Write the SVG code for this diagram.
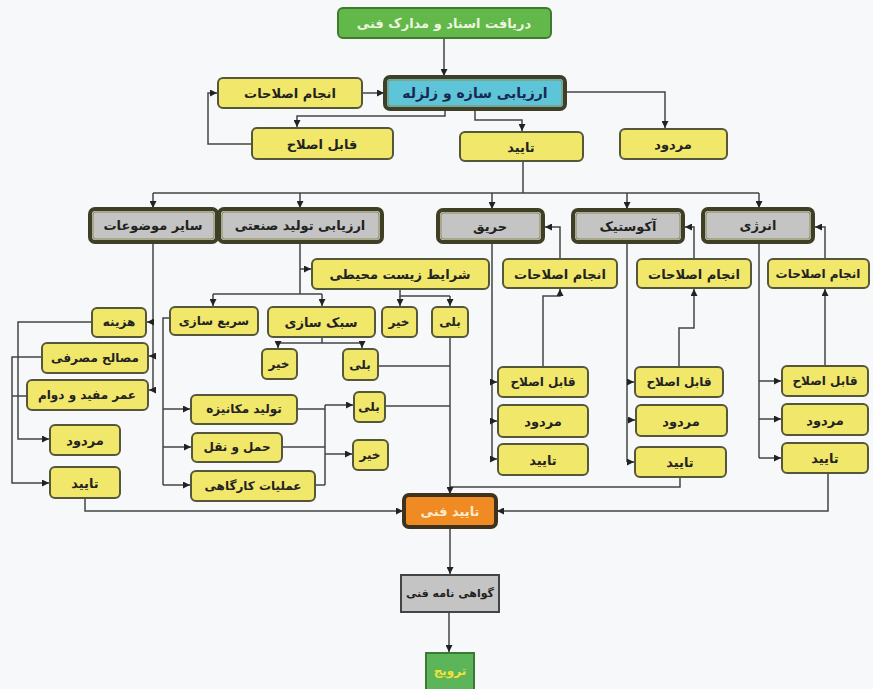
<svg xmlns="http://www.w3.org/2000/svg" width="873" height="689" viewBox="0 0 873 689">
<defs>
<marker id="a" viewBox="0 0 10 10" refX="10" refY="5" markerWidth="7" markerHeight="7" orient="auto" markerUnits="userSpaceOnUse"><path d="M0,0L10,5L0,10z" fill="#222"/></marker>
<style>
.y{fill:#f1e76a;stroke:#56563a;stroke-width:2}
.g{fill:#c4c4c4;stroke:#3f3f27;stroke-width:4}
.gi{fill:none;stroke:#8c8c55;stroke-width:1}
.t{font-family:"DejaVu Sans",sans-serif;font-weight:bold;font-size:13px;fill:#222;text-anchor:middle;dominant-baseline:central}
.s{font-size:12px}
.c path{fill:none;stroke:#444;stroke-width:1.5}
.m{marker-end:url(#a)}
</style>
</defs>
<rect width="873" height="689" fill="#f6f8f9"/>
<g class="c">
<path class="m" d="M444,38V76"/>
<path class="m" d="M362,93H384"/>
<path class="m" d="M445,109V116H297V127"/>
<path class="m" d="M252,144H208V93H217"/>
<path class="m" d="M475,109V120H522V131"/>
<path class="m" d="M565,92H665V128"/>
<path d="M523,161V193M153,193H759"/>
<path class="m" d="M153,193V208"/>
<path class="m" d="M300,193V208"/>
<path class="m" d="M492,193V209"/>
<path class="m" d="M627,193V209"/>
<path class="m" d="M759,193V208"/>
<path class="m" d="M560,259V227H545"/>
<path class="m" d="M694,259V227H685"/>
<path class="m" d="M825,259V227H815"/>
<path class="m" d="M543,367V296H560V289"/>
<path class="m" d="M679,367V328H694V289"/>
<path class="m" d="M825,366V289"/>
<path d="M492,242V459M627,242V462M759,242V458"/>
<path class="m" d="M492,382H497"/>
<path class="m" d="M492,421H497"/>
<path class="m" d="M492,459H497"/>
<path class="m" d="M627,382H634"/>
<path class="m" d="M627,420H635"/>
<path class="m" d="M627,462H634"/>
<path class="m" d="M759,381H781"/>
<path class="m" d="M759,419H781"/>
<path class="m" d="M759,458H781"/>
<path d="M680,477V487H450"/>
<path class="m" d="M828,473V511H497"/>
<path class="m" d="M85,498V511H403"/>
<path class="m" d="M450,337V494"/>
<path d="M300,242V294M213,294H322"/>
<path class="m" d="M300,269H311"/>
<path class="m" d="M213,294V306"/>
<path class="m" d="M322,294V306"/>
<path d="M400,289V296H450"/>
<path class="m" d="M400,296V306"/>
<path class="m" d="M450,296V306"/>
<path d="M322,337V343M278,343H362"/>
<path class="m" d="M278,343V348"/>
<path class="m" d="M362,343V348"/>
<path d="M378,366H450M385,406H450"/>
<path d="M170,318H163V485"/>
<path class="m" d="M163,409H190"/>
<path class="m" d="M163,447H191"/>
<path class="m" d="M163,485H190"/>
<path d="M297,409H325M282,447H325M315,485H325M325,405V485"/>
<path class="m" d="M325,405H353"/>
<path class="m" d="M325,454H352"/>
<path d="M153,242V390"/>
<path class="m" d="M153,322H147"/>
<path class="m" d="M153,356H149"/>
<path class="m" d="M153,390H149"/>
<path class="m" d="M92,322H18V439H49"/>
<path class="m" d="M42,357H12V483H49"/>
<path d="M27,396H12"/>
<path class="m" d="M450,527V574"/>
<path class="m" d="M449,612V652"/>
</g>
<g id="n1"><rect x="338" y="8" width="213" height="30" rx="5" fill="#62b848" stroke="#3f7a30" stroke-width="2"/><text class="t" x="444" y="23" style="fill:#eef5e0">دریافت اسناد و مدارک فنی</text></g>
<g id="n2"><rect x="385" y="77" width="180" height="32" rx="5" fill="#5ec4d8" stroke="#3f3f27" stroke-width="4"/><rect x="388" y="80" width="174" height="26" rx="3" class="gi"/><text class="t" x="475" y="93" style="font-size:14px;fill:#1a2850">ارزیابی سازه و زلزله</text></g>
<g id="n3"><rect class="y" x="218" y="78" width="144" height="30" rx="5"/><text class="t" x="290" y="93">انجام اصلاحات</text></g>
<g id="n4"><rect class="y" x="252" y="128" width="141" height="31" rx="5"/><text class="t" x="322" y="144">قابل اصلاح</text></g>
<g id="n5"><rect class="y" x="460" y="132" width="123" height="29" rx="5"/><text class="t" x="521" y="147">تایید</text></g>
<g id="n6"><rect class="y" x="620" y="129" width="107" height="30" rx="5"/><text class="t" x="673" y="144">مردود</text></g>
<g id="n7"><rect class="g" x="90" y="209" width="127" height="33" rx="5"/><rect class="gi" x="93" y="212" width="121" height="27" rx="3"/><text class="t" x="153" y="225">سایر موضوعات</text></g>
<g id="n8"><rect class="g" x="219" y="209" width="163" height="33" rx="5"/><rect class="gi" x="222" y="212" width="157" height="27" rx="3"/><text class="t" x="300" y="225">ارزیابی تولید صنعتی</text></g>
<g id="n9"><rect class="g" x="438" y="210" width="105" height="32" rx="5"/><rect class="gi" x="441" y="213" width="99" height="26" rx="3"/><text class="t" x="490" y="226">حریق</text></g>
<g id="n10"><rect class="g" x="573" y="210" width="110" height="32" rx="5"/><rect class="gi" x="576" y="213" width="104" height="26" rx="3"/><text class="t" x="628" y="226">آکوستیک</text></g>
<g id="n11"><rect class="g" x="703" y="209" width="110" height="33" rx="5"/><rect class="gi" x="706" y="212" width="104" height="27" rx="3"/><text class="t" x="758" y="225">انرژی</text></g>
<g id="n12"><rect class="y" x="503" y="259" width="114" height="29" rx="5"/><text class="t" x="560" y="274">انجام اصلاحات</text></g>
<g id="n13"><rect class="y" x="637" y="259" width="114" height="29" rx="5"/><text class="t" x="694" y="274">انجام اصلاحات</text></g>
<g id="n14"><rect class="y" x="768" y="259" width="101" height="29" rx="5"/><text class="t s" x="818" y="274">انجام اصلاحات</text></g>
<g id="n15"><rect class="y" x="498" y="367" width="90" height="30" rx="5"/><text class="t s" x="543" y="382">قابل اصلاح</text></g>
<g id="n16"><rect class="y" x="498" y="405" width="90" height="32" rx="5"/><text class="t" x="543" y="421">مردود</text></g>
<g id="n17"><rect class="y" x="498" y="444" width="90" height="31" rx="5"/><text class="t" x="543" y="460">تایید</text></g>
<g id="n18"><rect class="y" x="635" y="367" width="88" height="30" rx="5"/><text class="t s" x="679" y="382">قابل اصلاح</text></g>
<g id="n19"><rect class="y" x="636" y="405" width="91" height="31" rx="5"/><text class="t" x="681" y="421">مردود</text></g>
<g id="n20"><rect class="y" x="635" y="447" width="91" height="30" rx="5"/><text class="t" x="680" y="462">تایید</text></g>
<g id="n21"><rect class="y" x="782" y="366" width="86" height="30" rx="5"/><text class="t s" x="825" y="381">قابل اصلاح</text></g>
<g id="n22"><rect class="y" x="782" y="404" width="86" height="31" rx="5"/><text class="t" x="825" y="420">مردود</text></g>
<g id="n23"><rect class="y" x="782" y="443" width="86" height="30" rx="5"/><text class="t" x="825" y="458">تایید</text></g>
<g id="n24"><rect class="y" x="312" y="259" width="177" height="30" rx="5"/><text class="t" x="400" y="274">شرایط زیست محیطی</text></g>
<g id="n25"><rect class="y" x="170" y="307" width="88" height="28" rx="5"/><text class="t s" x="214" y="321">سریع سازی</text></g>
<g id="n26"><rect class="y" x="268" y="307" width="107" height="30" rx="5"/><text class="t" x="321" y="322">سبک سازی</text></g>
<g id="n27"><rect class="y" x="382" y="307" width="35" height="30" rx="5"/><text class="t s" x="399" y="322">خیر</text></g>
<g id="n28"><rect class="y" x="432" y="307" width="36" height="30" rx="5"/><text class="t s" x="450" y="322">بلی</text></g>
<g id="n29"><rect class="y" x="262" y="349" width="35" height="30" rx="5"/><text class="t s" x="279" y="364">خیر</text></g>
<g id="n30"><rect class="y" x="343" y="349" width="35" height="31" rx="5"/><text class="t s" x="360" y="365">بلی</text></g>
<g id="n31"><rect class="y" x="92" y="308" width="54" height="29" rx="5"/><text class="t s" x="119" y="322">هزینه</text></g>
<g id="n32"><rect class="y" x="42" y="343" width="106" height="30" rx="5"/><text class="t s" x="95" y="358">مصالح مصرفی</text></g>
<g id="n33"><rect class="y" x="27" y="380" width="121" height="30" rx="5"/><text class="t s" x="87" y="395">عمر مفید و دوام</text></g>
<g id="n34"><rect class="y" x="50" y="425" width="70" height="30" rx="5"/><text class="t" x="85" y="440">مردود</text></g>
<g id="n35"><rect class="y" x="50" y="467" width="70" height="31" rx="5"/><text class="t" x="85" y="483">تایید</text></g>
<g id="n36"><rect class="y" x="191" y="395" width="106" height="29" rx="5"/><text class="t s" x="244" y="409">تولید مکانیزه</text></g>
<g id="n37"><rect class="y" x="192" y="433" width="90" height="29" rx="5"/><text class="t s" x="237" y="447">حمل و نقل</text></g>
<g id="n38"><rect class="y" x="191" y="471" width="124" height="30" rx="5"/><text class="t s" x="253" y="486">عملیات کارگاهی</text></g>
<g id="n39"><rect class="y" x="354" y="392" width="31" height="30" rx="5"/><text class="t s" x="369" y="407">بلی</text></g>
<g id="n40"><rect class="y" x="353" y="440" width="35" height="30" rx="5"/><text class="t s" x="370" y="455">خیر</text></g>
<g id="n41"><rect x="404" y="495" width="92" height="32" rx="5" fill="#f08a22" stroke="#3f3320" stroke-width="4"/><text class="t" x="450" y="511" style="fill:#fbeccd">تایید فنی</text></g>
<g id="n42"><rect x="401" y="575" width="98" height="37" fill="#c4c4c4" stroke="#444" stroke-width="2"/><text class="t" x="450" y="593" style="font-size:11px">گواهی نامه فنی</text></g>
<g id="n43"><rect x="426" y="653" width="48" height="40" fill="#5db55a" stroke="#3a7a35" stroke-width="2"/><text class="t" x="450" y="671" style="fill:#f2e23a;font-size:12px">ترویج</text></g>
</svg>
